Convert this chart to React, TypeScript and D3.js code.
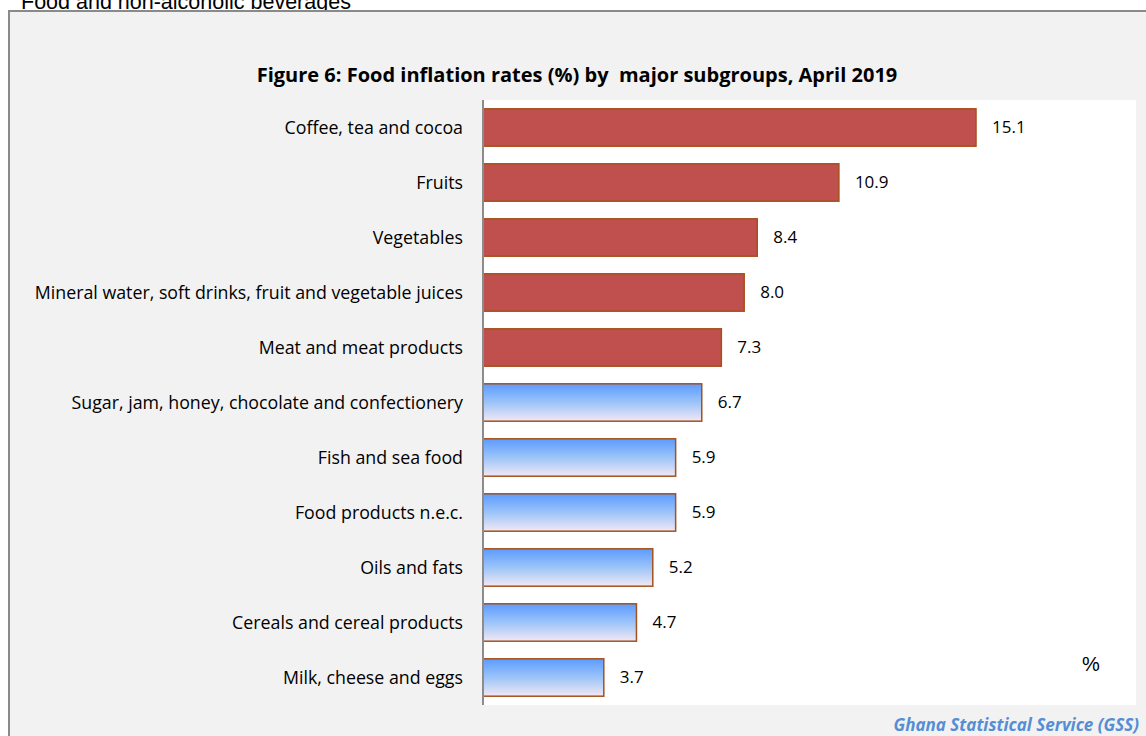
import React from "react";
import * as d3 from "d3";

const categories = [
  "Coffee, tea and cocoa",
  "Fruits",
  "Vegetables",
  "Mineral water, soft drinks, fruit and vegetable juices",
  "Meat and meat products",
  "Sugar, jam, honey, chocolate and confectionery",
  "Fish and sea food",
  "Food products n.e.c.",
  "Oils and fats",
  "Cereals and cereal products",
  "Milk, cheese and eggs",
];
const values = [15.1, 10.9, 8.4, 8.0, 7.3, 6.7, 5.9, 5.9, 5.2, 4.7, 3.7];
const highlighted = [true, true, true, true, true, false, false, false, false, false, false];

const W = 1146;
const H = 736;
const plot = { left: 483, right: 1136, top: 100, bottom: 705 };
const font = "'Open Sans', 'Noto Sans', sans-serif";

export default function App() {
  const x = d3.scaleLinear().domain([0, 20]).range([plot.left, plot.right]);
  const y = d3
    .scaleBand<string>()
    .domain(categories)
    .range([plot.top, plot.bottom])
    .paddingInner(0.32)
    .paddingOuter(0.16);

  return (
    <svg
      width={W}
      height={H}
      style={{ position: "absolute", left: 0, top: 0 }}
      xmlns="http://www.w3.org/2000/svg"
    >
      <defs>
        <linearGradient id="blueGrad" x1="0" y1="0" x2="0" y2="1">
          <stop offset="0" stopColor="#5c9bff" />
          <stop offset="0.5" stopColor="#9cc4f8" />
          <stop offset="1" stopColor="#f2e8f4" />
        </linearGradient>
      </defs>
      <rect x={0} y={0} width={W} height={H} fill="#ffffff" />
      <text x={21} y={9} fontFamily="'Liberation Sans', Arial, sans-serif" fontSize={21.5} fill="#000">
        Food and non-alcoholic beverages
      </text>
      <rect x={9} y={11} width={W} height={H} fill="#f2f2f2" stroke="#8a8a8a" strokeWidth={2} />
      <rect
        x={plot.left}
        y={plot.top}
        width={plot.right - plot.left}
        height={plot.bottom - plot.top}
        fill="#ffffff"
      />
      <text
        x={577}
        y={82}
        textAnchor="middle"
        fontFamily={font}
        fontWeight="bold"
        fontSize={20}
        fill="#000"
        style={{ whiteSpace: "pre" }}
      >
        {"Figure 6: Food inflation rates (%) by  major subgroups, April 2019"}
      </text>
      {categories.map((c, i) => {
        const by = y(c)!;
        const bh = y.bandwidth();
        const v = values[i];
        return (
          <g key={c}>
            <rect
              x={x(0)}
              y={by}
              width={x(v) - x(0)}
              height={bh}
              fill={highlighted[i] ? "#c0504d" : "url(#blueGrad)"}
              stroke="#a5511c"
              strokeWidth={1.5}
            />
            <text
              x={plot.left - 20}
              y={by + bh / 2}
              dy="0.35em"
              textAnchor="end"
              fontFamily={font}
              fontSize={17.8}
              fill="#000"
            >
              {c}
            </text>
            <text
              x={x(v) + 16}
              y={by + bh / 2}
              dy="0.35em"
              fontFamily={font}
              fontSize={17}
              fill="#000"
            >
              {d3.format(".1f")(v)}
            </text>
          </g>
        );
      })}
      <line x1={plot.left} x2={plot.left} y1={plot.top} y2={plot.bottom} stroke="#8c8c8c" strokeWidth={2} />
      <text
        x={1091}
        y={664}
        dy="0.35em"
        textAnchor="middle"
        fontFamily="'Liberation Sans', Arial, sans-serif"
        fontSize={20}
        fill="#000"
      >
        %
      </text>
      <text
        x={1139}
        y={731}
        textAnchor="end"
        fontFamily={font}
        fontWeight="bold"
        fontStyle="italic"
        fontSize={17}
        fill="#558ed5"
      >
        Ghana Statistical Service (GSS)
      </text>
    </svg>
  );
}
